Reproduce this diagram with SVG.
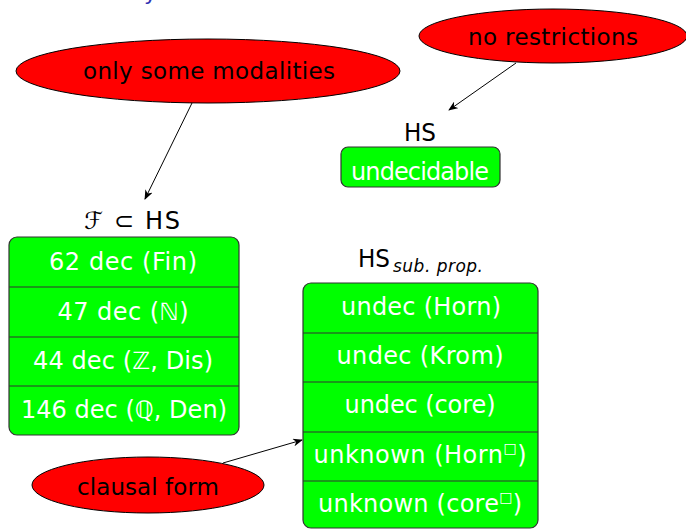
<svg xmlns="http://www.w3.org/2000/svg" width="686" height="529" viewBox="0 0 686 529">
  <style>
    text { font-family: "DejaVu Sans", "Liberation Sans", sans-serif; }
    .lbl { font-size: 23px; fill: #000; text-anchor: middle; }
    .cell { font-size: 24px; fill: #fff; text-anchor: middle; }
    .cause { fill: #ff0000; stroke: #000; stroke-width: 1; }
    .box { fill: #00ff00; stroke: #333; stroke-width: 1.2; }
    .div { stroke: #333; stroke-width: 1.2; }
    .edge { stroke: #000; stroke-width: 1; fill: none; marker-end: url(#arrow); }
  </style>
  <defs>
    <marker id="arrow" viewBox="0 0 10 8" refX="9" refY="4" markerWidth="10" markerHeight="8" markerUnits="userSpaceOnUse" orient="auto">
      <path d="M0,0 L10,4 L0,8 L3,4 z" fill="#000"/>
    </marker>
  </defs>

  <!-- title line (mostly above the visible area) -->
  <text x="144" y="0" style="font-size:22px;fill:#3333b3">y</text>

  <!-- connectors -->
  <g id="connectors">
    <line class="edge" x1="192" y1="103" x2="145" y2="199"/>
    <line class="edge" x1="516" y1="63" x2="449" y2="110"/>
    <line class="edge" x1="223" y1="463" x2="302" y2="440"/>
  </g>

  <g id="only-some-modalities">
    <ellipse class="cause" cx="208" cy="71" rx="192" ry="32"/>
    <text class="lbl" x="209" y="79" textLength="252" lengthAdjust="spacing">only some modalities</text>
  </g>

  <g id="no-restrictions">
    <ellipse class="cause" cx="553" cy="36" rx="134" ry="27"/>
    <text class="lbl" x="553" y="45" textLength="170" lengthAdjust="spacing">no restrictions</text>
  </g>

  <g id="hs">
    <text class="lbl" x="420" y="141" style="font-size:24px" textLength="32" lengthAdjust="spacingAndGlyphs">HS</text>
    <rect class="box" x="341" y="147" width="159" height="40" rx="7"/>
    <text class="cell" x="420" y="180" textLength="138" lengthAdjust="spacing">undecidable</text>
  </g>

  <g id="fragment">
    <text class="lbl" x="132" y="229" style="font-size:24px" textLength="96" lengthAdjust="spacing">ℱ ⊂ HS</text>
    <rect class="box" x="9" y="237" width="230" height="198" rx="8"/>
    <line class="div" x1="9" y1="287" x2="239" y2="287"/>
    <line class="div" x1="9" y1="337" x2="239" y2="337"/>
    <line class="div" x1="9" y1="386" x2="239" y2="386"/>
    <text class="cell" x="123" y="270" textLength="148" lengthAdjust="spacing">62 dec (Fin)</text>
    <text class="cell" x="123" y="320" textLength="131" lengthAdjust="spacing">47 dec (ℕ)</text>
    <text class="cell" x="123" y="369" textLength="180" lengthAdjust="spacing">44 dec (ℤ, Dis)</text>
    <text class="cell" x="124" y="418" textLength="206" lengthAdjust="spacing">146 dec (ℚ, Den)</text>
  </g>

  <g id="hs-sub-prop">
    <text x="358" y="267" style="font-size:24px;fill:#000" textLength="32" lengthAdjust="spacingAndGlyphs">HS</text>
    <text x="393" y="272" style="font-size:17px;font-style:italic;fill:#000" textLength="90" lengthAdjust="spacing">sub. prop.</text>
    <rect class="box" x="303" y="283" width="235" height="245" rx="8"/>
    <line class="div" x1="303" y1="333" x2="538" y2="333"/>
    <line class="div" x1="303" y1="382" x2="538" y2="382"/>
    <line class="div" x1="303" y1="432" x2="538" y2="432"/>
    <line class="div" x1="303" y1="481" x2="538" y2="481"/>
    <text class="cell" x="421" y="315" textLength="160" lengthAdjust="spacing">undec (Horn)</text>
    <text class="cell" x="420" y="364" textLength="167" lengthAdjust="spacing">undec (Krom)</text>
    <text class="cell" x="420" y="413" textLength="151" lengthAdjust="spacing">undec (core)</text>
    <text class="cell" x="420" y="463" textLength="213" lengthAdjust="spacing">unknown (Horn<tspan dy="-10" style="font-size:14px">□</tspan><tspan dy="10">)</tspan></text>
    <text class="cell" x="420" y="512" textLength="204" lengthAdjust="spacing">unknown (core<tspan dy="-10" style="font-size:14px">□</tspan><tspan dy="10">)</tspan></text>
  </g>

  <g id="clausal-form">
    <ellipse class="cause" cx="148" cy="485" rx="116" ry="28"/>
    <text class="lbl" x="148" y="495" textLength="142" lengthAdjust="spacing">clausal form</text>
  </g>
</svg>
